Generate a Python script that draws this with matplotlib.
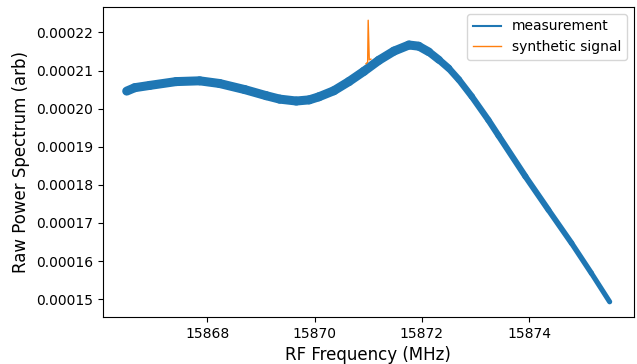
#!/usr/bin/env python
import matplotlib
matplotlib.use("Agg")
import matplotlib.pyplot as plt
from matplotlib.collections import LineCollection
from matplotlib.lines import Line2D
import numpy as np

freq = [15866.50, 15866.65, 15866.93, 15867.42, 15867.86, 15868.23, 15868.70,
        15869.10, 15869.35, 15869.66, 15869.90, 15870.08, 15870.36, 15870.64,
        15870.92, 15871.20, 15871.48, 15871.76, 15871.94, 15872.13, 15872.32,
        15872.50, 15872.69, 15872.93, 15873.24, 15873.43, 15873.93, 15874.36,
        15874.79, 15875.16, 15875.50]
power = [2.046e-4, 2.055e-4, 2.061e-4, 2.071e-4, 2.073e-4, 2.066e-4, 2.050e-4,
         2.034e-4, 2.025e-4, 2.020e-4, 2.023e-4, 2.031e-4, 2.047e-4, 2.071e-4,
         2.098e-4, 2.127e-4, 2.151e-4, 2.167e-4, 2.164e-4, 2.149e-4, 2.128e-4,
         2.106e-4, 2.076e-4, 2.032e-4, 1.970e-4, 1.929e-4, 1.822e-4, 1.734e-4,
         1.647e-4, 1.568e-4, 1.493e-4]
# apparent thickness of the noisy trace (points), left side is noisier
band = [6.5, 6.5, 6.5, 6.5, 6.5, 6.5, 6.5, 6.5, 6.5, 6.5, 6.5, 6.5, 6.5, 6.5,
        6.5, 6.5, 6.5, 6.5, 6.5, 6.0, 5.5, 5.0, 4.8, 4.6, 4.5, 4.5, 4.4, 4.2,
        4.0, 3.8, 3.6]

# synthetic signal: narrow spike near 15871 MHz
sig_freq = [15870.96, 15870.99, 15871.00, 15871.02, 15871.05]
sig_power = [2.118e-4, 2.122e-4, 2.232e-4, 2.128e-4, 2.130e-4]

fig, ax = plt.subplots(figsize=(6.37, 3.64), dpi=100)
fig.subplots_adjust(left=0.161, right=0.995, top=0.981, bottom=0.129)

pts = np.column_stack([freq, power])
segs = np.stack([pts[:-1], pts[1:]], axis=1)
widths = 0.5 * (np.array(band[:-1]) + np.array(band[1:]))
lc = LineCollection(segs, colors="#1f77b4", linewidths=widths,
                    capstyle="round", joinstyle="round")
ax.add_collection(lc)
ax.plot(sig_freq, sig_power, color="#ff7f0e", lw=1)

ax.set_xlabel("RF Frequency (MHz)", fontsize=12)
ax.set_ylabel("Raw Power Spectrum (arb)", fontsize=12)
ax.set_xticks([15868, 15870, 15872, 15874])
ax.set_xlim(15866.05, 15875.95)
ax.set_ylim(0.0001453, 0.0002267)
ax.set_yticks(np.arange(0.00015, 0.000221, 0.00001))
ax.yaxis.set_major_formatter(matplotlib.ticker.FormatStrFormatter("%.5f"))

handles = [Line2D([], [], color="#1f77b4", lw=1.5),
           Line2D([], [], color="#ff7f0e", lw=1)]
ax.legend(handles, ["measurement", "synthetic signal"], loc="upper right")

fig.savefig("out.png", dpi=100)
